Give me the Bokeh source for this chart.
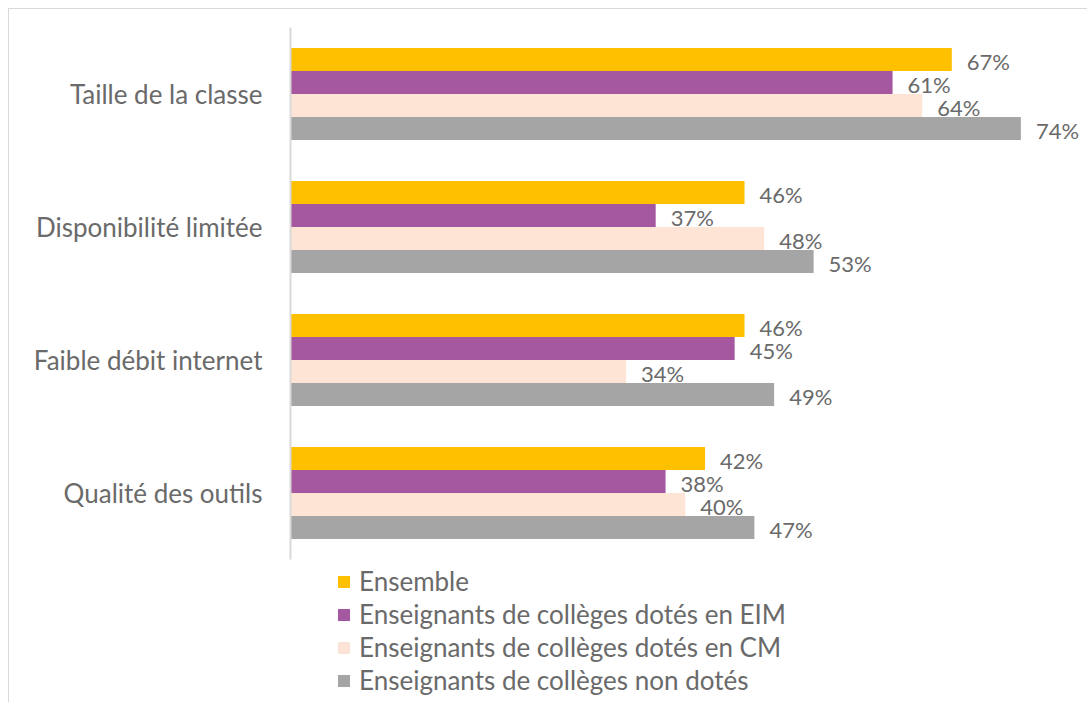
from bokeh.plotting import figure
from bokeh.layouts import column
from bokeh.models import ColumnDataSource, FactorRange, Range1d, Legend, LegendItem, LabelSet
from bokeh.transform import dodge
from bokeh.core.properties import value
from bokeh.embed import file_html
from bokeh.resources import INLINE

categories = ["Taille de la classe", "Disponibilité limitée", "Faible débit internet", "Qualité des outils"]
series = ["Ensemble",
          "Enseignants de collèges dotés en EIM",
          "Enseignants de collèges dotés en CM",
          "Enseignants de collèges non dotés"]
ensemble = [67, 46, 46, 42]
eim = [61, 37, 45, 38]
cm = [64, 48, 34, 40]
non_dotes = [74, 53, 49, 47]
colors = ["#FFC000", "#A5579F", "#FDE4D4", "#A5A5A5"]

values = [ensemble, eim, cm, non_dotes]
bar_h = 0.173
offsets = [1.5 * bar_h, 0.5 * bar_h, -0.5 * bar_h, -1.5 * bar_h]

FONT = "Lato"
TXT = "#6a6a6a"

p = figure(width=1078, height=551,
           y_range=FactorRange(factors=categories[::-1]),
           x_range=Range1d(0, 80.75),
           output_backend="svg", toolbar_location=None,
           min_border_left=281, min_border_right=0,
           min_border_top=18, min_border_bottom=1)

for name, vals, col, off in zip(series, values, colors, offsets):
    src = ColumnDataSource(dict(cat=categories, val=vals, lab=[f"{v}%" for v in vals]))
    p.hbar(y=dodge("cat", off, range=p.y_range), right="val", left=0, height=bar_h,
           source=src, fill_color=col, line_color=None)
    lbl = LabelSet(x="val", y=dodge("cat", off - 0.012, range=p.y_range), text="lab", source=src,
                   x_offset=15, text_baseline="middle", text_align="left",
                   text_font=value(FONT), text_font_size=value("22px"), text_color=value(TXT))
    p.add_layout(lbl)

p.xaxis.visible = False
p.xgrid.visible = False
p.ygrid.visible = False
p.outline_line_color = None

ax = p.yaxis[0]
ax.axis_line_color = "#d9d9d9"
ax.axis_line_width = 2
ax.major_tick_line_color = None
ax.minor_tick_line_color = None
ax.major_label_text_font = FONT
ax.major_label_text_font_size = "26px"
ax.major_label_text_color = TXT
ax.major_label_standoff = 22

# legend strip
p2 = figure(width=1078, height=142, x_range=Range1d(0, 1), y_range=Range1d(0, 1),
            output_backend="svg", toolbar_location=None,
            min_border_left=0, min_border_right=0, min_border_top=0, min_border_bottom=0)
p2.axis.visible = False
p2.grid.visible = False
p2.outline_line_color = None
items = []
for name, col in zip(series, colors):
    r = p2.hbar(y=[-10], right=[-10], left=-11, height=0.1, fill_color=col, line_color=None)
    items.append(LegendItem(label=name, renderers=[r]))
legend = Legend(items=items, location=(46, 6), orientation="vertical",
                glyph_width=15, glyph_height=15, label_height=20, spacing=1,
                label_standoff=8, padding=0, margin=0,
                border_line_color=None, background_fill_alpha=0,
                label_text_font=FONT, label_text_font_size="26px", label_text_color=TXT)
p2.add_layout(legend, "center")

layout = column(p, p2, spacing=0,
                styles={"margin-left": "8px", "margin-top": "8px",
                        "border-left": "1px solid #d9d9d9", "border-top": "1px solid #d9d9d9"})

open("out.html", "w").write(file_html(layout, INLINE))
